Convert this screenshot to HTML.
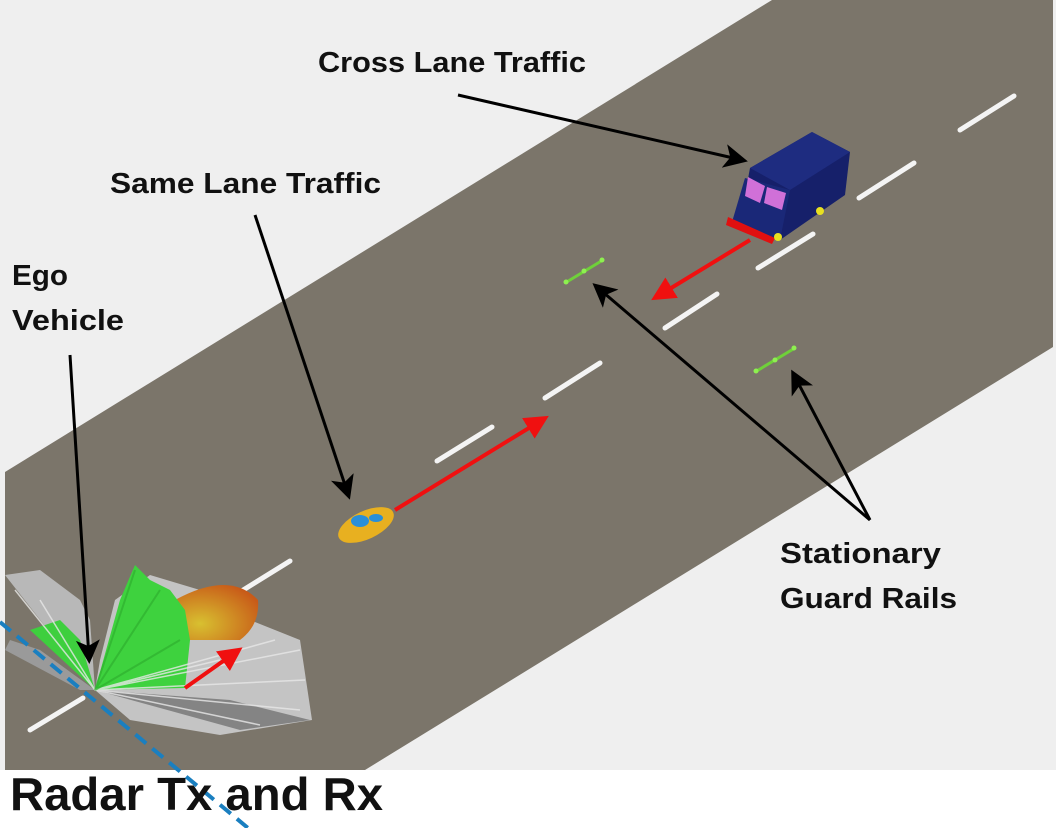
<!DOCTYPE html>
<html><head><meta charset="utf-8"><style>html,body{margin:0;padding:0;background:#fff}svg{display:block}</style></head>
<body>
<svg width="1056" height="828" viewBox="0 0 1056 828" xmlns="http://www.w3.org/2000/svg">
<defs>
<marker id="ab" markerWidth="8" markerHeight="8" refX="6" refY="4" orient="auto" markerUnits="strokeWidth"><path d="M0,0 L8,4 L0,8 L2,4 z" fill="#000"/></marker>
<marker id="ar" markerWidth="6" markerHeight="6" refX="4" refY="3" orient="auto" markerUnits="strokeWidth"><path d="M0,0 L6,3 L0,6 z" fill="#f01010"/></marker>
<radialGradient id="og" cx="0.3" cy="0.7" r="0.8"><stop offset="0" stop-color="#d8c030"/><stop offset="1" stop-color="#c85a18"/></radialGradient>
</defs>
<rect width="1056" height="828" fill="#fff"/>
<rect x="0" y="0" width="1056" height="770" fill="#efefef"/>
<polygon points="5,472 772,0 1053,0 1053,347 365,770 5,770" fill="#7b756a"/>
<g stroke="#f4f4f4" stroke-width="5" stroke-linecap="round">
<line x1="30" y1="730" x2="83" y2="698"/><line x1="240" y1="592" x2="290" y2="561"/>
<line x1="437" y1="461" x2="492" y2="427"/><line x1="545" y1="398" x2="600" y2="363"/>
<line x1="665" y1="328" x2="717" y2="294"/><line x1="758" y1="268" x2="813" y2="234"/>
<line x1="859" y1="198" x2="914" y2="163"/><line x1="960" y1="130" x2="1014" y2="96"/>
</g>
<!-- radar pattern -->
<g>
<path d="M95,690 L5,575 L40,570 L80,600 L90,620 Z" fill="#b8b8b8"/>
<path d="M95,690 L100,660 L115,600 L150,575 L200,590 L250,620 L300,640 L312,720 L220,735 L130,720 Z" fill="#c4c4c4"/>
<path d="M175,600 Q230,570 258,600 Q260,625 240,640 L180,640 Z" fill="url(#og)"/>
<path d="M95,690 L120,600 L135,565 L150,580 L170,590 L185,610 L190,640 L185,688 Z" fill="#3ed23e"/>
<path d="M95,690 L30,630 L60,620 L80,640 Z" fill="#3ecf3e"/>
<path d="M95,690 L40,650 L10,640 L5,650 L80,690 Z" fill="#9a9a9a"/>
<path d="M95,690 L240,730 L310,720 L230,700 Z" fill="#6a6a6a" opacity="0.7"/>
<g stroke="#e8e8e8" stroke-width="1.5" opacity="0.8">
<line x1="95" y1="690" x2="300" y2="650"/><line x1="95" y1="690" x2="305" y2="680"/><line x1="95" y1="690" x2="300" y2="710"/>
<line x1="95" y1="690" x2="260" y2="725"/><line x1="95" y1="690" x2="15" y2="590"/><line x1="95" y1="690" x2="40" y2="600"/>
<line x1="95" y1="690" x2="275" y2="640"/><line x1="95" y1="690" x2="220" y2="660"/>
</g>
<g stroke="#2fb02f" stroke-width="2" opacity="0.7">
<line x1="95" y1="690" x2="135" y2="570"/><line x1="95" y1="690" x2="160" y2="590"/><line x1="95" y1="690" x2="180" y2="640"/>
</g>
</g>
<line x1="185" y1="688" x2="236" y2="652" stroke="#f01010" stroke-width="4" marker-end="url(#ar)"/>
<line x1="0" y1="622" x2="248" y2="828" stroke="#1a7fc0" stroke-width="4" stroke-dasharray="14,8"/>
<!-- car -->
<g>
<ellipse cx="366" cy="525" rx="30" ry="14" transform="rotate(-25 366 525)" fill="#e8b020"/>
<ellipse cx="360" cy="521" rx="9" ry="6" fill="#2a8fd8"/>
<ellipse cx="376" cy="518" rx="7" ry="4" fill="#2a8fd8"/>
</g>
<line x1="395" y1="510" x2="542" y2="420" stroke="#f01010" stroke-width="4" marker-end="url(#ar)"/>
<!-- truck -->
<g>
<polygon points="750,168 812,132 850,152 845,195 780,240 740,222" fill="#16206a"/>
<polygon points="750,168 812,132 850,152 790,190" fill="#1e2c80"/>
<polygon points="745,178 790,190 780,240 732,222" fill="#1a2878"/>
<polygon points="748,177 765,186 760,203 745,196" fill="#d070d8"/>
<polygon points="767,187 786,193 782,210 764,203" fill="#d070d8"/>
<polygon points="728,217 775,238 772,244 726,225" fill="#e01010"/>
<circle cx="778" cy="237" r="4" fill="#e8e020"/><circle cx="820" cy="211" r="4" fill="#e8e020"/>
</g>
<line x1="750" y1="240" x2="658" y2="296" stroke="#f01010" stroke-width="4" marker-end="url(#ar)"/>
<!-- guard rails -->
<g stroke="#6fd03a" stroke-width="3">
<line x1="565" y1="283" x2="603" y2="260"/><line x1="755" y1="372" x2="795" y2="348"/>
</g>
<g fill="#8ef050"><circle cx="566" cy="282" r="2.5"/><circle cx="584" cy="271" r="2.5"/><circle cx="602" cy="260" r="2.5"/><circle cx="756" cy="371" r="2.5"/><circle cx="775" cy="360" r="2.5"/><circle cx="794" cy="348" r="2.5"/></g>
<!-- black arrows -->
<g stroke="#000" stroke-width="3" fill="none">
<line x1="458" y1="95" x2="742" y2="160" marker-end="url(#ab)"/>
<line x1="255" y1="215" x2="348" y2="494" marker-end="url(#ab)"/>
<line x1="70" y1="355" x2="89" y2="658" marker-end="url(#ab)"/>
<line x1="870" y1="520" x2="597" y2="287" marker-end="url(#ab)"/>
<line x1="870" y1="520" x2="794" y2="375" marker-end="url(#ab)"/>
</g>
<g font-family="Liberation Sans, sans-serif" font-weight="bold" fill="#111">
<text x="318" y="72" font-size="29" textLength="268" lengthAdjust="spacingAndGlyphs">Cross Lane Traffic</text>
<text x="110" y="193" font-size="29" textLength="271" lengthAdjust="spacingAndGlyphs">Same Lane Traffic</text>
<text x="12" y="285" font-size="29" textLength="56" lengthAdjust="spacingAndGlyphs">Ego</text>
<text x="12" y="330" font-size="29" textLength="112" lengthAdjust="spacingAndGlyphs">Vehicle</text>
<text x="780" y="563" font-size="29" textLength="161" lengthAdjust="spacingAndGlyphs">Stationary</text>
<text x="780" y="608" font-size="29" textLength="177" lengthAdjust="spacingAndGlyphs">Guard Rails</text>
<text x="10" y="810" font-size="46" textLength="373" lengthAdjust="spacingAndGlyphs">Radar Tx and Rx</text>
</g>
</svg>
</body></html>
